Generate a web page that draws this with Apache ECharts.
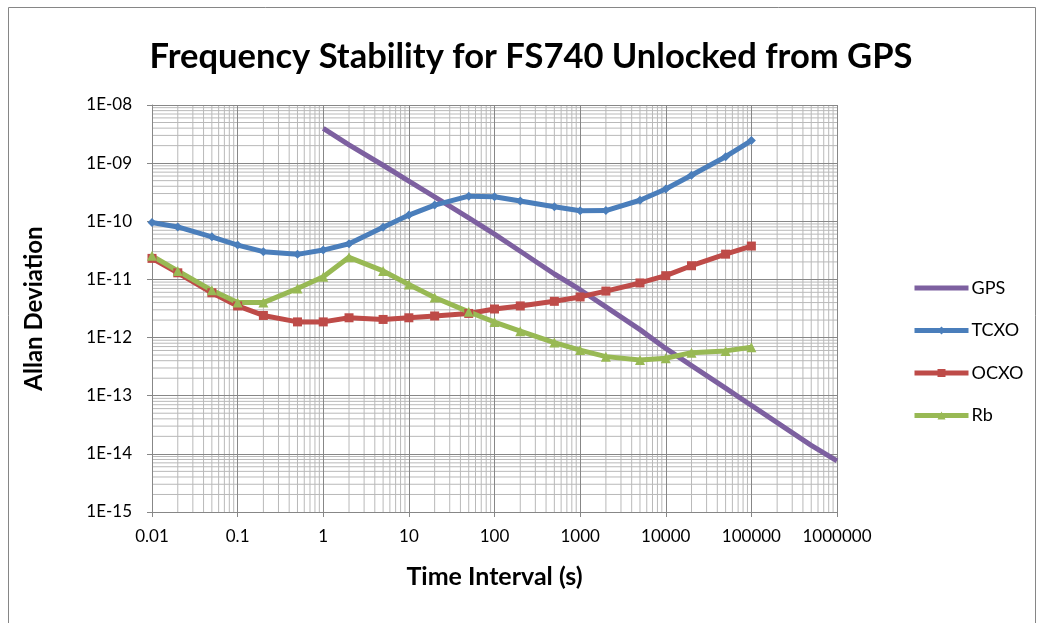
<!DOCTYPE html>
<html>
<head>
<meta charset="utf-8">
<title>Frequency Stability for FS740</title>
<script src="https://cdn.jsdelivr.net/npm/echarts@6/dist/echarts.min.js"></script>
<style>
html, body { margin: 0; padding: 0; background: #fff; }
#chart { width: 1044px; height: 623px; }
</style>
</head>
<body>
<div id="chart"></div>
<script>
// averaging times (s) for the oscillator curves
const tau = [0.01, 0.02, 0.05, 0.1, 0.2, 0.5, 1, 2, 5, 10, 20, 50, 100, 200, 500, 1000, 2000, 5000, 10000, 20000, 50000, 100000];
const tcxo = [9.5e-11, 8.0e-11, 5.4e-11, 3.9e-11, 3.0e-11, 2.7e-11, 3.2e-11, 4.1e-11, 7.9e-11, 1.28e-10, 1.9e-10, 2.7e-10,
  2.65e-10, 2.23e-10, 1.78e-10, 1.52e-10, 1.53e-10, 2.3e-10, 3.6e-10, 6.2e-10, 1.29e-9, 2.45e-9];
const ocxo = [2.3e-11, 1.3e-11, 5.9e-12, 3.5e-12, 2.4e-12, 1.86e-12, 1.86e-12, 2.19e-12, 2.05e-12, 2.19e-12, 2.35e-12, 2.6e-12,
  3.1e-12, 3.5e-12, 4.2e-12, 5.0e-12, 6.3e-12, 8.7e-12, 1.16e-11, 1.72e-11, 2.72e-11, 3.75e-11];
const rb = [2.55e-11, 1.4e-11, 6.5e-12, 4.0e-12, 4.0e-12, 7.0e-12, 1.11e-11, 2.4e-11, 1.4e-11, 8.2e-12, 4.9e-12, 2.77e-12,
  1.85e-12, 1.29e-12, 8.2e-13, 6.1e-13, 4.7e-13, 4.1e-13, 4.4e-13, 5.5e-13, 5.9e-13, 6.8e-13];

// GPS curve has its own time points
const gpsTau = [1, 2, 5, 10, 20, 50, 100, 200, 500, 1000, 2000, 5000, 10000, 20000, 50000, 100000, 200000, 500000, 1000000];
const gps = [3.97e-9, 2.07e-9, 9.2e-10, 4.9e-10, 2.63e-10, 1.14e-10, 6.0e-11, 3.05e-11, 1.24e-11, 6.65e-12, 3.37e-12, 1.37e-12,
  6.5e-13, 3.3e-13, 1.35e-13, 6.8e-14, 3.45e-14, 1.4e-14, 7.55e-15];

const xTickLabels = ['0.01', '0.1', '1', '10', '100', '1000', '10000', '100000', '1000000'];
const yTickLabels = ['1E-15', '1E-14', '1E-13', '1E-12', '1E-11', '1E-10', '1E-09', '1E-08'];

const xMin = 0.01, xMax = 1e6;
const yMin = 1e-15, yMax = 1e-8;

// minor grid at 2..9 of every decade
const minorX = [];
for (let e = -2; e < 6; e++) {
  for (let k = 2; k <= 9; k++) minorX.push(k * Math.pow(10, e));
}
const minorY = [];
for (let e = -15; e < -8; e++) {
  for (let k = 2; k <= 9; k++) minorY.push(k * Math.pow(10, e));
}

const FONT = 'Lato';
const GRID_MAJOR = '#878787';
const GRID_MINOR = '#b9b9b9';

function pair(xs, ys) {
  return xs.map((x, i) => [x, ys[i]]);
}

function vLine(params, api) {
  const x = api.value(0);
  const a = api.coord([x, yMin]);
  const b = api.coord([x, yMax]);
  return { type: 'line', shape: { x1: a[0], y1: a[1], x2: b[0], y2: b[1] },
    style: { stroke: GRID_MINOR, lineWidth: 1 }, silent: true };
}
function hLine(params, api) {
  const y = api.value(1);
  const a = api.coord([xMin, y]);
  const b = api.coord([xMax, y]);
  return { type: 'line', shape: { x1: a[0], y1: a[1], x2: b[0], y2: b[1] },
    style: { stroke: GRID_MINOR, lineWidth: 1 }, silent: true };
}

const chart = echarts.init(document.getElementById('chart'));
const option = {
  backgroundColor: '#fff',
  animation: false,
  graphic: [{
    type: 'rect',
    shape: { x: 8.5, y: 7.5, width: 1027, height: 640 },
    style: { fill: 'none', stroke: '#868686', lineWidth: 1 },
    silent: true
  }],
  title: {
    text: 'Frequency Stability for FS740 Unlocked from GPS',
    left: 526,
    textAlign: 'center',
    top: 34,
    textStyle: { fontFamily: FONT, fontSize: 34.5, fontWeight: 'bold', color: '#000' }
  },
  legend: {
    orient: 'vertical',
    left: 912,
    top: 279,
    padding: 0,
    itemWidth: 54,
    itemHeight: 10,
    itemGap: 24.5,
    lineStyle: { width: 5 },
    data: [
      { name: 'GPS', icon: 'path://M0,0 L54,0 L54,5 L0,5 Z' },
      'TCXO', 'OCXO', 'Rb'
    ],
    textStyle: { fontFamily: FONT, fontSize: 18, color: '#000', padding: [0, 0, 0, -2] }
  },
  grid: { left: 152, top: 105, width: 685, height: 407 },
  xAxis: {
    type: 'log',
    logBase: 10,
    min: xMin,
    max: xMax,
    splitNumber: 8,
    z: 1.5,
    name: 'Time Interval (s)',
    nameLocation: 'middle',
    nameGap: 52,
    nameTextStyle: { fontFamily: FONT, fontSize: 25, fontWeight: 'bold', color: '#000' },
    axisLine: { show: true, lineStyle: { color: GRID_MAJOR, width: 1 } },
    axisTick: { show: true, length: 5, lineStyle: { color: GRID_MAJOR } },
    axisLabel: {
      margin: 16,
      fontFamily: FONT, fontSize: 17, color: '#000',
      formatter: v => xTickLabels[Math.round(Math.log10(v)) + 2]
    },
    splitLine: { show: true, lineStyle: { color: GRID_MAJOR, width: 1 } }
  },
  yAxis: {
    type: 'log',
    logBase: 10,
    min: yMin,
    max: yMax,
    splitNumber: 7,
    z: 1.5,
    name: 'Allan Deviation',
    nameLocation: 'middle',
    nameGap: 106,
    nameRotate: 90,
    nameTextStyle: { fontFamily: FONT, fontSize: 24, fontWeight: 'bold', color: '#000' },
    axisLine: { show: true, lineStyle: { color: GRID_MAJOR, width: 1 } },
    axisTick: { show: true, length: 5, lineStyle: { color: GRID_MAJOR } },
    axisLabel: {
      margin: 20,
      fontFamily: FONT, fontSize: 17, color: '#000',
      formatter: v => yTickLabels[Math.round(Math.log10(v)) + 15]
    },
    splitLine: { show: true, lineStyle: { color: GRID_MAJOR, width: 1 } }
  },
  series: [
    {
      type: 'custom', z: 1, silent: true, renderItem: vLine,
      data: minorX.map(v => [v, 1e-12])
    },
    {
      type: 'custom', z: 1, silent: true, renderItem: hLine,
      data: minorY.map(v => [1, v])
    },
    {
      name: 'GPS', type: 'line', data: pair(gpsTau, gps),
      symbol: 'none', color: '#7D60A0',
      lineStyle: { width: 5, color: '#7D60A0' }
    },
    {
      name: 'TCXO', type: 'line', data: pair(tau, tcxo),
      symbol: 'diamond', symbolSize: 9, color: '#4A7EBB',
      lineStyle: { width: 5, color: '#4A7EBB' }
    },
    {
      name: 'OCXO', type: 'line', data: pair(tau, ocxo),
      symbol: 'rect', symbolSize: 9, color: '#BE4B48',
      lineStyle: { width: 5, color: '#BE4B48' }
    },
    {
      name: 'Rb', type: 'line', data: pair(tau, rb),
      symbol: 'triangle', symbolSize: 10, color: '#98B954',
      lineStyle: { width: 5, color: '#98B954' }
    }
  ]
};
chart.setOption(option);
</script>
</body>
</html>
